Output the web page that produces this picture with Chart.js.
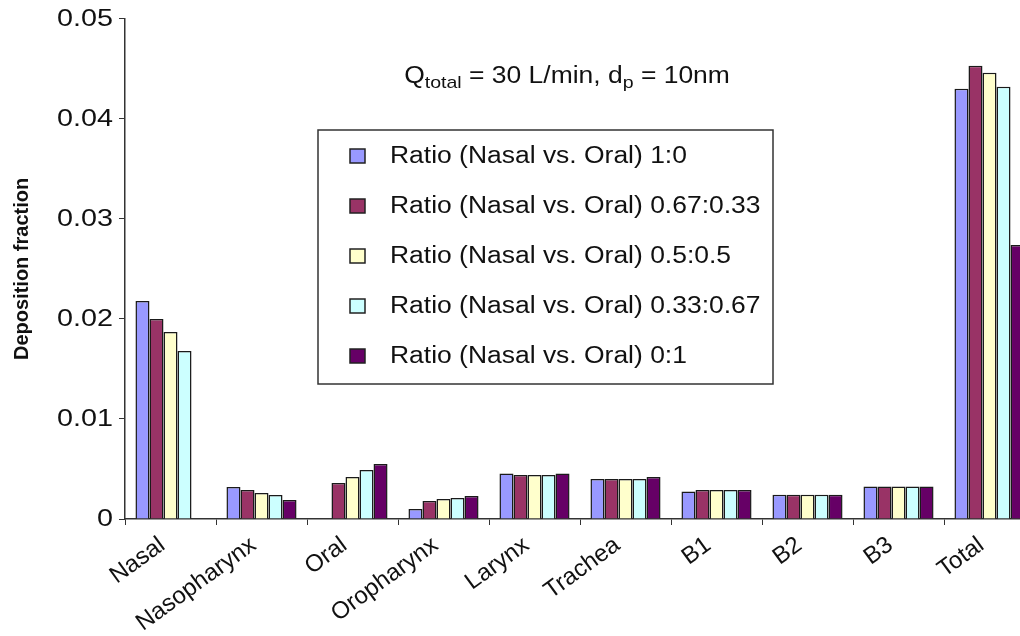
<!DOCTYPE html>
<html>
<head>
<meta charset="utf-8">
<script src="https://cdn.jsdelivr.net/npm/chart.js@4/dist/chart.umd.min.js"></script>
<style>
html,body{margin:0;padding:0;background:#fff;overflow:hidden;}
#wrap{width:1040px;height:636px;}
</style>
</head>
<body>
<div id="wrap"><canvas id="c" width="1040" height="636"></canvas></div>
<script>
const categories = ["Nasal","Nasopharynx","Oral","Oropharynx","Larynx","Trachea","B1","B2","B3","Total"];
const seriesLabels = [
  "Ratio (Nasal vs. Oral) 1:0",
  "Ratio (Nasal vs. Oral) 0.67:0.33",
  "Ratio (Nasal vs. Oral) 0.5:0.5",
  "Ratio (Nasal vs. Oral) 0.33:0.67",
  "Ratio (Nasal vs. Oral) 0:1"
];
const seriesColors = ["#9999FF","#993366","#FFFFCC","#CCFFFF","#660066"];
const ratio_1_0      = [0.0218, 0.0032, null,   0.0010, 0.00455, 0.0040, 0.00275, 0.00242, 0.00325, 0.0430];
const ratio_067_033  = [0.0200, 0.0029, 0.0036, 0.0018, 0.0044,  0.0040, 0.0029,  0.00242, 0.00325, 0.0453];
const ratio_05_05    = [0.0187, 0.0026, 0.0042, 0.0020, 0.0044,  0.0040, 0.0029,  0.00242, 0.00325, 0.0446];
const ratio_033_067  = [0.0168, 0.0024, 0.0049, 0.0021, 0.0044,  0.0040, 0.0029,  0.00242, 0.00325, 0.0432];
const ratio_0_1      = [null,   0.0019, 0.0055, 0.0023, 0.00455, 0.0042, 0.0029,  0.00242, 0.00325, 0.0274];
const yTicks = [0, 0.01, 0.02, 0.03, 0.04, 0.05];
const seriesValues = [ratio_1_0, ratio_067_033, ratio_05_05, ratio_033_067, ratio_0_1];

const FONT = "'Liberation Sans', Arial, sans-serif";
const STRETCH = 1.15;
const fmtY = v => (v === 0 ? "0" : (+v).toFixed(2));

const titlePlugin = {
  id: 'subTitle',
  afterDraw(chart) {
    const ctx = chart.ctx;
    ctx.save();
    ctx.fillStyle = '#111';
    ctx.textBaseline = 'alphabetic';
    ctx.textAlign = 'left';
    const big = "23px " + FONT, small = "17px " + FONT;
    const parts = [["Q", big, 0], ["total", small, 5], [" = 30 L/min, d", big, 0], ["p", small, 5], [" = 10nm", big, 0]];
    let total = 0;
    parts.forEach(p => { ctx.font = p[1]; total += ctx.measureText(p[0]).width; });
    ctx.translate(567, 0);
    ctx.scale(STRETCH, 1);
    let x = -total / 2;
    const base = 83;
    parts.forEach(p => { ctx.font = p[1]; ctx.fillText(p[0], x, base + p[2]); x += ctx.measureText(p[0]).width; });
    ctx.restore();
  }
};

const yLabelPlugin = {
  id: 'yLabels',
  afterDraw(chart) {
    const ctx = chart.ctx;
    const ys = chart.scales.y;
    ctx.save();
    ctx.fillStyle = '#111';
    ctx.font = "23px " + FONT;
    ctx.textBaseline = 'middle';
    ctx.textAlign = 'right';
    yTicks.forEach(v => {
      ctx.save();
      ctx.translate(113, ys.getPixelForValue(v) + 1);
      ctx.scale(1.25, 1);
      ctx.fillText(fmtY(v), 0, 0);
      ctx.restore();
    });
    ctx.restore();
  }
};

const legendPlugin = {
  id: 'boxLegend',
  afterDraw(chart) {
    const ctx = chart.ctx;
    ctx.save();
    ctx.fillStyle = '#fff';
    ctx.fillRect(318, 130, 455, 254);
    ctx.strokeStyle = '#333';
    ctx.lineWidth = 1.5;
    ctx.strokeRect(318, 130, 455, 254);
    chart.data.datasets.forEach((ds, i) => {
      const cy = 156 + i * 50;
      ctx.fillStyle = ds.backgroundColor;
      ctx.fillRect(350, cy - 7, 15, 14);
      ctx.strokeStyle = '#222';
      ctx.lineWidth = 1.5;
      ctx.strokeRect(350, cy - 7, 15, 14);
      ctx.save();
      ctx.translate(390, cy + 1);
      ctx.scale(STRETCH, 1);
      ctx.font = "23px " + FONT;
      ctx.textBaseline = 'middle';
      ctx.textAlign = 'left';
      ctx.fillStyle = '#111';
      ctx.fillText(ds.label, 0, 0);
      ctx.restore();
    });
    ctx.restore();
  }
};

new Chart(document.getElementById('c'), {
  type: 'bar',
  data: {
    labels: categories,
    datasets: seriesLabels.map((l, i) => ({
      label: l,
      data: seriesValues[i],
      backgroundColor: seriesColors[i],
      borderColor: '#1a1a1a',
      borderWidth: 1.5,
      categoryPercentage: 0.77,
      barPercentage: 1.0
    }))
  },
  options: {
    responsive: false,
    animation: false,
    layout: { padding: { top: 16, right: 5, left: 0, bottom: 0 } },
    plugins: { legend: { display: false }, tooltip: { enabled: false }, title: { display: false } },
    scales: {
      x: {
        grid: { drawOnChartArea: false, drawTicks: true, tickLength: 6, color: '#333', offset: true },
        border: { color: '#333', width: 1.5 },
        ticks: { color: '#111', font: { family: FONT, size: 24 }, maxRotation: 36, minRotation: 36, padding: 6, labelOffset: -8 },
        afterFit(s) { s.height = 117; }
      },
      y: {
        min: 0, max: 0.05,
        afterBuildTicks(s) { s.ticks = yTicks.map(v => ({ value: v })); },
        grid: { drawOnChartArea: false, drawTicks: true, tickLength: 6, color: '#333' },
        border: { color: '#333', width: 1.5 },
        ticks: { color: 'rgba(0,0,0,0)', font: { family: FONT, size: 23 }, padding: 5, callback: fmtY },
        title: { display: true, text: 'Deposition fraction', color: '#111',
          font: { family: FONT, size: 20, weight: 'bold' }, padding: { top: 10, bottom: 0 } },
        afterFit(s) { s.width = 125; }
      }
    }
  },
  plugins: [titlePlugin, legendPlugin, yLabelPlugin]
});
</script>
</body>
</html>
